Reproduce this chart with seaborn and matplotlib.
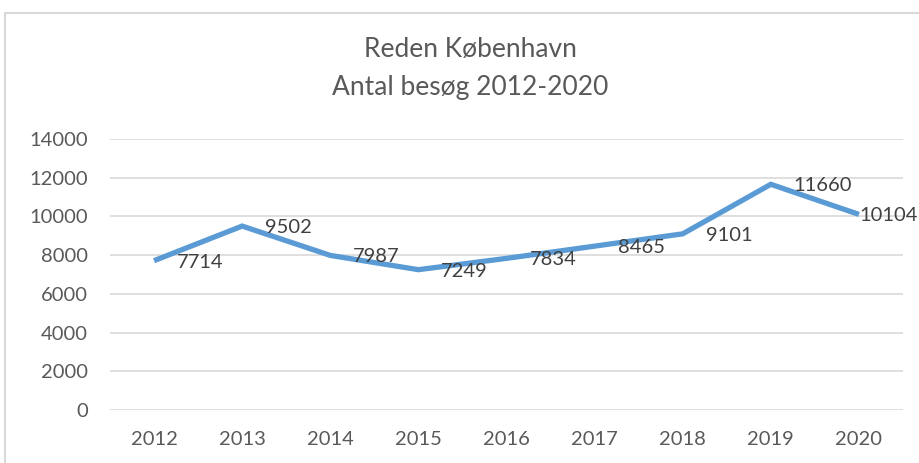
import matplotlib.pyplot as plt
import matplotlib.patches as patches
import seaborn as sns
import pandas as pd

# Data
years = [2012, 2013, 2014, 2015, 2016, 2017, 2018, 2019, 2020]
visits = [7714, 9502, 7987, 7249, 7834, 8465, 9101, 11660, 10104]
yticks = [0, 2000, 4000, 6000, 8000, 10000, 12000, 14000]

df = pd.DataFrame({"year": years, "visits": visits})

sns.set_theme(style="white")
plt.rcParams['font.family'] = ['Lato', 'DejaVu Sans']

fig = plt.figure(figsize=(9.19, 4.63), dpi=100)
ax = fig.add_axes([110 / 919, 1 - 410 / 463, 793 / 919, 271 / 463])

sns.lineplot(data=df, x="year", y="visits", ax=ax, color="#5B9BD5", linewidth=3.8,
             solid_joinstyle="miter", solid_capstyle="butt")

# data labels to the right of each point (last one squeezed in like Excel does)
for i, (x, y) in enumerate(zip(years, visits)):
    dx = 0.5 if i == len(years) - 1 else 16.5
    ax.annotate(str(y), (x, y), xytext=(dx, -1), textcoords="offset points",
                ha="left", va="center", fontsize=14.5, color="#404040",
                annotation_clip=False)

ax.set_xlim(years[0] - 0.5, years[-1] + 0.5)
ax.set_ylim(0, 14000)
ax.set_xticks(years)
ax.set_yticks(yticks)
ax.set_xlabel("")
ax.set_ylabel("")
ax.grid(axis="y", color="#D9D9D9", linewidth=1.2)
ax.set_axisbelow(True)
for s in ax.spines.values():
    s.set_visible(False)
ax.tick_params(axis="both", length=0, labelsize=14.5, labelcolor="#595959")
ax.tick_params(axis="y", pad=16)
ax.tick_params(axis="x", pad=15)

# chart title
fig.text(470 / 919, 1 - 50 / 463, "Reden København", ha="center", va="center",
         fontsize=19, color="#595959")
fig.text(470 / 919, 1 - 88 / 463, "Antal besøg 2012-2020", ha="center", va="center",
         fontsize=19, color="#595959")

# outer chart border
fig.patches.append(patches.Rectangle((5 / 919, -0.1), 2, 1 - 13 / 463 + 0.1,
                                     transform=fig.transFigure, fill=False,
                                     edgecolor="#D9D9D9", linewidth=1.5))

fig.savefig("out.png", dpi=100)
plt.close()
